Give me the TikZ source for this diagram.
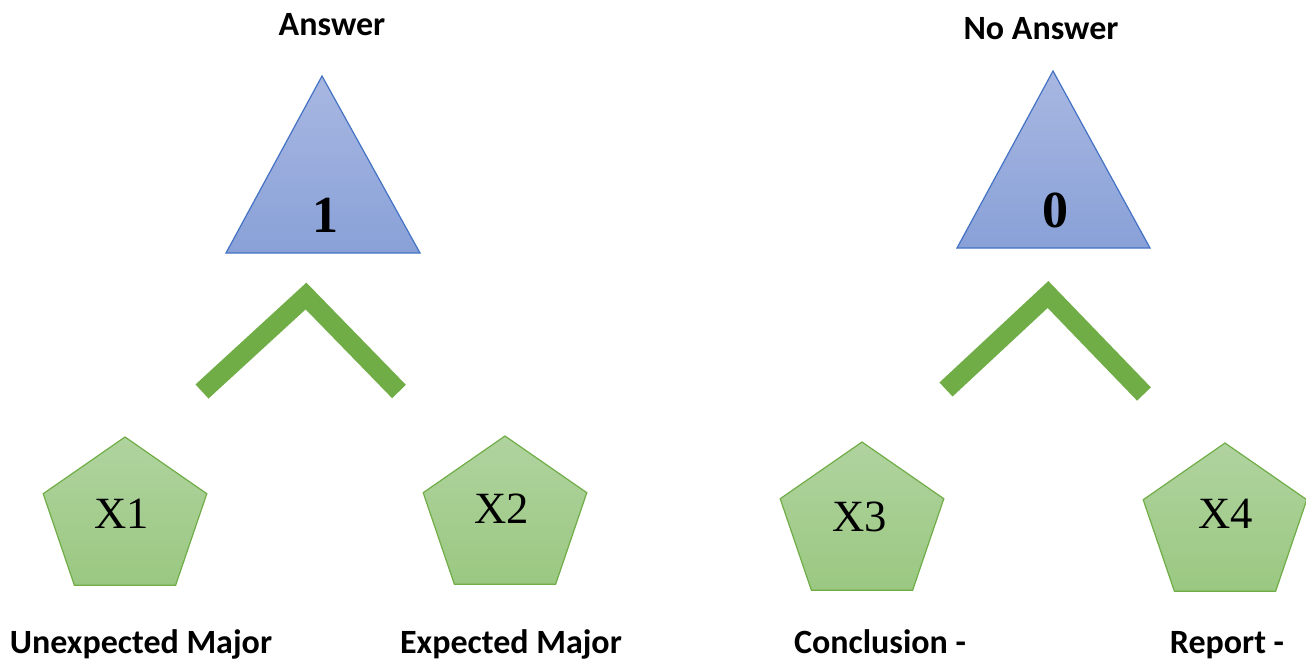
\documentclass[tikz,border=0pt]{standalone}
\usepackage{fontspec}
\setmainfont{Carlito}
\newfontfamily\tnrfont{Liberation Serif}
\definecolor{triTop}{RGB}{168,183,225}
\definecolor{triBot}{RGB}{137,161,216}
\definecolor{triLine}{RGB}{68,114,196}
\definecolor{penTop}{RGB}{176,211,159}
\definecolor{penBot}{RGB}{154,200,129}
\definecolor{penLine}{RGB}{112,173,71}
\definecolor{chev}{RGB}{112,173,71}
\tikzset{
  tri/.style={draw=triLine, line width=0.9pt, top color=triTop, bottom color=triBot},
  pent/.style={draw=penLine, line width=0.9pt, top color=penTop, bottom color=penBot},
  chevron/.style={draw=chev, line width=14.4pt, line join=miter, line cap=butt},
  lbl/.style={font=\bfseries\fontsize{25.5}{30}\selectfont, anchor=base, inner sep=0pt},
  xlbl/.style={font=\tnrfont\fontsize{33.5}{40}\selectfont, anchor=base, inner sep=0pt},
  numlbl/.style={font=\tnrfont\bfseries\fontsize{39}{46}\selectfont, anchor=base, inner sep=0pt}
}
\newcommand\mypent[3]{% name, center x, top y
  \path[pent] (#2,#3) -- (#2+81.8,#3+56.7) -- (#2+50.6,#3+148.3)
     -- (#2-50.6,#3+148.3) -- (#2-81.8,#3+56.7) -- cycle;
}
\begin{document}
\begin{tikzpicture}[x=0.75pt,y=-0.75pt]
\useasboundingbox (0,0) rectangle (1306,661);

% triangles
\path[tri] (322,76) -- (420,253) -- (226,253) -- cycle;
\path[tri] (1053,71) -- (1150,248) -- (957,248) -- cycle;
\node[numlbl] (one) at (325,232) {1};
\node[numlbl] (zero) at (1055,227) {0};
\node[lbl] (answer) at (332,35) {Answer};
\node[lbl] (noanswer) at (1041,39) {No Answer};

% chevrons
\coordinate (cLa) at (202,391.5);
\coordinate (cLt) at (306,296);
\coordinate (cLb) at (399,391.5);
\draw[chevron] (cLa) -- (cLt) -- (cLb);
\coordinate (cRa) at (946,389.5);
\coordinate (cRt) at (1048,294.5);
\coordinate (cRb) at (1144,394);
\draw[chevron] (cRa) -- (cRt) -- (cRb);

% pentagons
\mypent{p1}{125}{437}
\mypent{p2}{505}{436}
\mypent{p3}{862}{442}
\mypent{p4}{1225}{443}
\node[xlbl] (x1) at (122,528) {X1};
\node[xlbl] (x2) at (502,523) {X2};
\node[xlbl] (x3) at (860,531) {X3};
\node[xlbl] (x4) at (1226,528) {X4};

% bottom labels
\node[lbl] (l1) at (141,653) {Unexpected Major};
\node[lbl] (l2) at (511,653) {Expected Major};
\node[lbl] (l3) at (880,653) {Conclusion -};
\node[lbl] (l4) at (1227,653) {Report -};
\end{tikzpicture}
\end{document}
